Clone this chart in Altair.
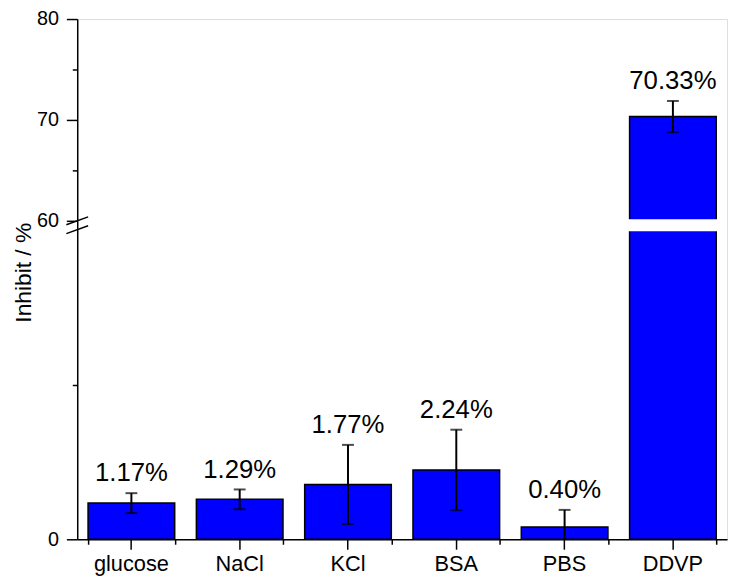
import altair as alt
import pandas as pd

categories = ["glucose", "NaCl", "KCl", "BSA", "PBS", "DDVP"]
values = [1.17, 1.29, 1.77, 2.24, 0.40, 70.33]
errors = [0.32, 0.32, 1.28, 1.30, 0.55, 1.55]
labels = ["1.17%", "1.29%", "1.77%", "2.24%", "0.40%", "70.33%"]
major_ticks = [0, 60, 70, 80]
minor_ticks = [5, 65, 75]
break_from, break_to = 10, 60

df = pd.DataFrame({
    "cat": categories,
    "val": values,
    "err": errors,
    "label": labels,
})
df["lo"] = (df["val"] - df["err"]).clip(lower=0)
df["hi"] = df["val"] + df["err"]

FONT = "Liberation Sans"
W, H = 657, 526

yscale = alt.Scale(domain=[0, break_from, break_to, 80], range=[H, 213, 204, 0], nice=False, zero=False)
xscale = alt.Scale(domain=categories, paddingInner=0.2, paddingOuter=0.1)

base = alt.Chart(df)

x_major = alt.X("cat:N", scale=xscale, sort=categories, title=None,
                axis=alt.Axis(orient="bottom", tickSize=10, tickWidth=1.5, tickColor="black",
                              domainColor="black", domainWidth=1.5, labelAngle=0,
                              labelFontSize=22, labelFont=FONT, labelColor="black",
                              labelPadding=5, grid=False))
x_minor = alt.X("cat:N", scale=xscale, sort=categories, title=None,
                axis=alt.Axis(orient="bottom", tickBand="extent", tickSize=5, tickWidth=1.5,
                              tickColor="black", labels=False, domain=False, grid=False))
x_none = alt.X("cat:N", scale=xscale, sort=categories, axis=None)

y_major = alt.Y("val:Q", scale=yscale, title="Inhibit / %",
                axis=alt.Axis(orient="left", values=major_ticks, tickSize=11, tickWidth=1.5,
                              tickColor="black", domainColor="black", domainWidth=1.5,
                              labelFontSize=20, labelFont=FONT, labelColor="black",
                              labelPadding=8, grid=False, titleFont=FONT, titleFontSize=23,
                              titleFontWeight="normal", titleColor="black",
                              titleX=-47, titleY=256, titleAngle=270,
                              titleBaseline="alphabetic", titleAlign="center"))
y_minor_axis = alt.Axis(orient="left", values=minor_ticks, tickSize=5, tickWidth=1.5,
                        tickColor="black", labels=False, domain=False, grid=False, title=None)

bars = base.mark_bar(color="#0000ff", stroke="black", strokeWidth=1.5).encode(
    x=x_major,
    y=y_major,
)

gap = base.transform_filter(alt.datum.val > break_to).transform_calculate(
    g0=str(break_from), g1=str(break_to)
).mark_bar(color="white", stroke="white", strokeWidth=3).encode(
    x=x_none,
    y=alt.Y("g0:Q", scale=yscale, axis=None),
    y2="g1:Q",
)

err_rule = base.mark_rule(color="black", strokeWidth=2).encode(
    x=x_none,
    y=alt.Y("lo:Q", scale=yscale, axis=None),
    y2="hi:Q",
)

cap_hi = base.mark_tick(color="black", thickness=2, size=12, orient="horizontal").encode(
    x=x_minor,
    y=alt.Y("hi:Q", scale=yscale, axis=y_minor_axis),
)
cap_lo = base.transform_filter(alt.datum.lo > 0).mark_tick(
    color="black", thickness=2, size=12, orient="horizontal").encode(
    x=x_none,
    y=alt.Y("lo:Q", scale=yscale, axis=None),
)

text = base.mark_text(baseline="bottom", dy=-7, fontSize=26, font=FONT, color="black").encode(
    x=x_none,
    y=alt.Y("hi:Q", scale=yscale, axis=None),
    text="label:N",
)

brk1 = alt.Chart(pd.DataFrame({"k": [0]})).mark_rule(color="black", strokeWidth=1.5).encode(
    x=alt.value(-11), x2=alt.value(11), y=alt.value(208), y2=alt.value(200))
brk2 = alt.Chart(pd.DataFrame({"k": [0]})).mark_rule(color="black", strokeWidth=1.5).encode(
    x=alt.value(-11), x2=alt.value(11), y=alt.value(217), y2=alt.value(209))

chart = alt.layer(bars, gap, err_rule, cap_hi, cap_lo, text, brk1, brk2).resolve_axis(
    x="independent", y="independent"
).properties(
    width=W, height=H,
    autosize=alt.AutoSizeParams(type="none"),
    padding={"left": 70, "top": 8, "right": 5, "bottom": 40},
).configure_view(stroke="black", strokeWidth=1.5).configure(background="white")

chart.save("out.html", embed_options={"renderer": "svg", "actions": False})
